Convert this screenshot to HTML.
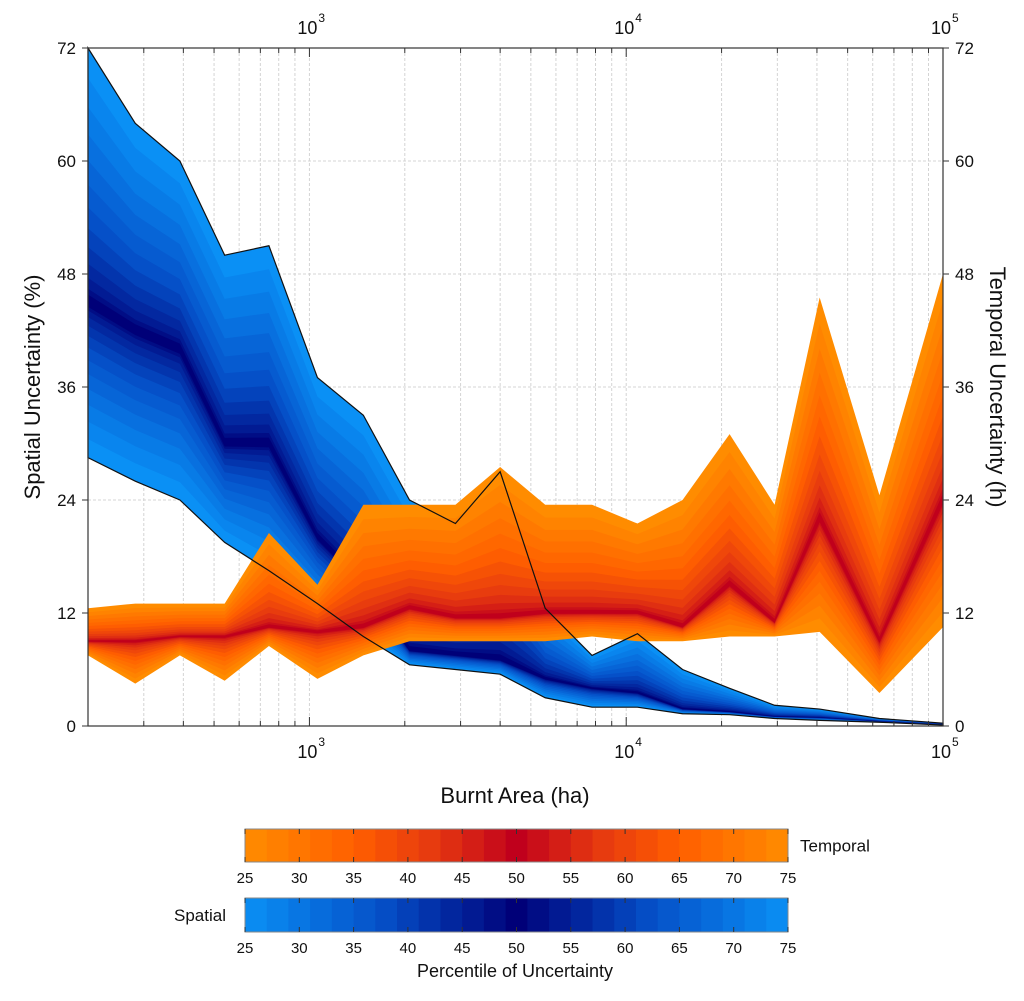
<!DOCTYPE html>
<html><head><meta charset="utf-8">
<style>
body{margin:0;background:#fff;}
svg text{font-family:"Liberation Sans","DejaVu Sans",sans-serif;fill:#111;}
</style></head>
<body>
<svg id="chart" width="1024" height="996" viewBox="0 0 1024 996" xmlns="http://www.w3.org/2000/svg">
<g id="grid"></g>
<g id="spatial"></g>
<g id="temporal"></g>
<g id="outline"></g>
<g id="axes"></g>
<g id="cbars"></g>
</svg>
<script>
// Data
const burntArea = [200,282,390,540,745,1060,1480,2070,2890,4000,5550,7800,10850,15060,21200,29400,40800,63000,100000];
const spatialP25 = [28.5,26,24,19.5,16.5,13,9.5,6.5,6,5.5,3,2,2,1.3,1.2,0.8,0.6,0.4,0.1];
const spatialP50 = [45,42,40,30,30,20,15,8,7.5,7,5,4,3.5,1.8,1.5,1,0.9,0.5,0.2];
const spatialP75 = [72,64,60,50,51,37,33,24,21.5,27,12.5,7.5,9.8,6,4,2.2,1.8,0.8,0.3];
const temporalP25 = [7.5,4.5,7.5,4.8,8.5,5,7.5,9,9,9,9,9.5,9,9,9.5,9.5,10,3.5,10.5];
const temporalP50 = [9,9,9.5,9.5,10.5,10,10.5,12.5,11.5,11.5,12,12,12,10.5,15,11,22,9,24];
const temporalP75 = [12.5,13,13,13,20.5,15,23.5,23.5,23.5,27.5,23.5,23.5,21.5,24,31,23.5,45.5,24.5,48];
const yTicks = [0,12,24,36,48,60,72];
const cbTicks = [25,30,35,40,45,50,55,60,65,70,75];

const X0=88,X1=943,Y0=726,Y1=48;
const lmin=Math.log10(200),lmax=5;
const sx=v=>X0+(Math.log10(v)-lmin)/(lmax-lmin)*(X1-X0);
const sy=v=>Y0-(v/72)*(Y0-Y1);
const NS="http://www.w3.org/2000/svg";
function mk(tag,attrs,parent){const e=document.createElementNS(NS,tag);for(const k in attrs)e.setAttribute(k,attrs[k]);parent.appendChild(e);return e;}
function hex(c){return [parseInt(c.slice(1,3),16),parseInt(c.slice(3,5),16),parseInt(c.slice(5,7),16)];}
function ramp(stops,t){for(let i=0;i<stops.length-1;i++){const [a,ca]=stops[i],[b,cb]=stops[i+1];if(t<=b){const f=(t-a)/(b-a);const A=hex(ca),B=hex(cb);return 'rgb('+A.map((v,j)=>Math.round(v+(B[j]-v)*f)).join(',')+')';}}return stops[stops.length-1][1];}
const blueStops=[[0,'#0a90f5'],[0.5,'#0550c8'],[1,'#000078']];
const orStops=[[0,'#ff8c00'],[0.4,'#ff5f00'],[0.7,'#e53810'],[1,'#c0001c']];

const grid=document.getElementById('grid');
for(let d=2;d<=4;d++)for(let m=1;m<=9;m++){const v=m*Math.pow(10,d);if(v<200||v>100000)continue;const x=sx(v);
 const l=mk('line',{x1:x,x2:x,y1:Y1,y2:Y0,stroke:'#d4d4d4','stroke-dasharray':'3,2','stroke-width':1},grid);
 
 }
yTicks.forEach(t=>{const l=mk('line',{x1:X0,x2:X1,y1:sy(t),y2:sy(t),stroke:'#d4d4d4','stroke-dasharray':'3,2'},grid);
 
 });

function bands(g,p25,p50,p75,stops,name){
 const N=13;
 for(let k=0;k<N;k++){const t=k/(N-1);const f=(1-Math.pow(1-t,1.5))*0.97;
  const lo=p25.map((v,i)=>v+(p50[i]-v)*f), hi=p75.map((v,i)=>v+(p50[i]-v)*f);
  let pts=burntArea.map((a,i)=>sx(a)+','+sy(hi[i]));
  pts=pts.concat(burntArea.map((a,i)=>sx(a)+','+sy(lo[i])).reverse());
  const p=mk('polygon',{points:pts.join(' '),fill:ramp(stops,t)},g);
  
  }
}
bands(document.getElementById('spatial'),spatialP25,spatialP50,spatialP75,blueStops,'spatial');
bands(document.getElementById('temporal'),temporalP25,temporalP50,temporalP75,orStops,'temporal');
{let pts=burntArea.map((a,i)=>sx(a)+','+sy(spatialP75[i]));pts=pts.concat(burntArea.map((a,i)=>sx(a)+','+sy(spatialP25[i])).reverse());
 const p=mk('polygon',{points:pts.join(' '),fill:'none',stroke:'#111','stroke-width':1.2},document.getElementById('outline'));
 
 }

const ax=document.getElementById('axes');
mk('rect',{x:X0,y:Y1,width:X1-X0,height:Y0-Y1,fill:'none',stroke:'#333','stroke-width':1.2},ax);
for(let d=2;d<=4;d++)for(let m=1;m<=9;m++){const v=m*Math.pow(10,d);if(v<200||v>100000)continue;const x=sx(v);const L=m==1?9:5;
 mk('line',{x1:x,x2:x,y1:Y0,y2:Y0-L,stroke:'#333'},ax);mk('line',{x1:x,x2:x,y1:Y1,y2:Y1+L,stroke:'#333'},ax);}
[3,4,5].forEach(e=>{const x=sx(Math.pow(10,e));
 [[Y0+32,Y0+20],[Y1-14,Y1-26]].forEach(([by,sy2])=>{
 const t=mk('text',{x:x-2,y:by,'text-anchor':'middle','font-size':18},ax);t.textContent='10';
 
 
 const s=mk('text',{x:x+9,y:sy2,'font-size':12},ax);s.textContent=e;});});
yTicks.forEach(t=>{const y=sy(t);
 mk('line',{x1:X0-6,x2:X0,y1:y,y2:y,stroke:'#333'},ax);mk('line',{x1:X1,x2:X1+6,y1:y,y2:y,stroke:'#333'},ax);
 const a=mk('text',{x:X0-12,y:y+6,'text-anchor':'end','font-size':17},ax);a.textContent=t;
 
 
 const b=mk('text',{x:X1+12,y:y+6,'font-size':17},ax);b.textContent=t;
 
 });
{const t=mk('text',{x:0,y:0,'font-size':22,'text-anchor':'middle',transform:'translate(40,387) rotate(-90)'},ax);t.textContent='Spatial Uncertainty (%)';
 
 
 const r=mk('text',{x:0,y:0,'font-size':22,'text-anchor':'middle',transform:'translate(990,387) rotate(90)'},ax);r.textContent='Temporal Uncertainty (h)';
 
 
 const b=mk('text',{x:515,y:803,'font-size':22,'text-anchor':'middle'},ax);b.textContent='Burnt Area (ha)';
 
 }

const cb=document.getElementById('cbars');
const CX0=245,CX1=788,NC=25,cw=(CX1-CX0)/NC;
function cbar(y,h,stops,name,label,lx,anchor){
 for(let i=0;i<NC;i++){const t=1-Math.abs((i+0.5)/NC-0.5)*2;
  const r=mk('rect',{x:CX0+i*cw,y:y,width:cw+0.5,height:h,fill:ramp(stops,t)},cb);
  
  }
 mk('rect',{x:CX0,y:y,width:CX1-CX0,height:h,fill:'none',stroke:'#888'},cb);
 cbTicks.forEach(p=>{const x=CX0+(p-25)/50*(CX1-CX0);
  mk('line',{x1:x,x2:x,y1:y,y2:y+5,stroke:'#333'},cb);mk('line',{x1:x,x2:x,y1:y+h,y2:y+h-5,stroke:'#333'},cb);
  const t=mk('text',{x:x,y:y+h+21,'text-anchor':'middle','font-size':15},cb);t.textContent=p;
  
  });
 const l=mk('text',{x:lx,y:y+h/2+6,'text-anchor':anchor,'font-size':17},cb);l.textContent=label;
 
 
}
cbar(829,33,orStops,'temporal','Temporal',800,'start');
cbar(898,34,blueStops,'spatial','Spatial',226,'end');
{const t=mk('text',{x:515,y:977,'text-anchor':'middle','font-size':18},cb);t.textContent='Percentile of Uncertainty';
 
 }
</script>
</body></html>
